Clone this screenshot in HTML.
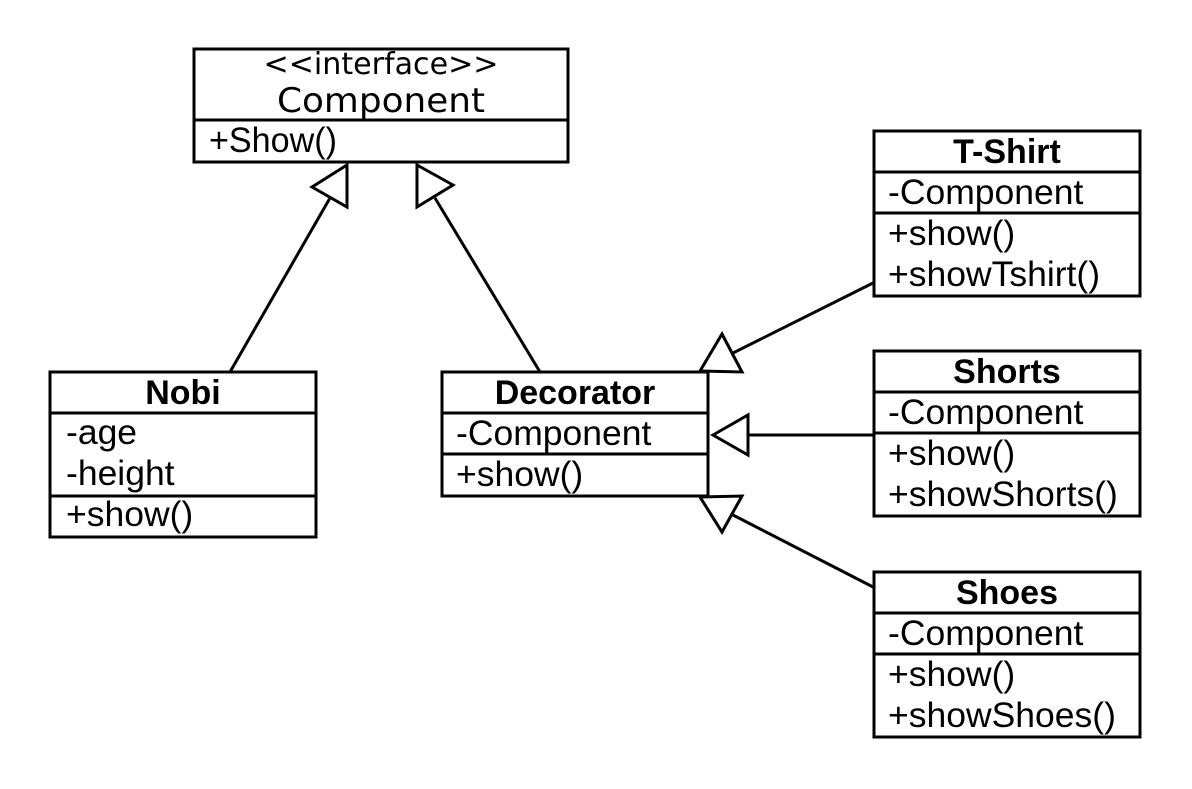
<!DOCTYPE html>
<html><head><meta charset="utf-8"><style>
html,body{margin:0;padding:0;background:#fff;}
svg{display:block;}
text{font-family:"Liberation Sans",Arial,sans-serif;font-size:35.5px;fill:#000;}
.b{font-weight:bold;font-size:34px;}
.g{font-family:"DejaVu Sans","Liberation Sans",sans-serif;}
</style></head><body>
<svg width="1192" height="789" viewBox="0 0 1192 789" xmlns="http://www.w3.org/2000/svg">
<g fill="#fff" stroke="#000" stroke-width="3">
<rect x="194" y="49" width="374" height="113"/>
<line x1="194" y1="120" x2="568" y2="120"/>
<rect x="50" y="372" width="266" height="165"/>
<line x1="50" y1="413" x2="316" y2="413"/>
<line x1="50" y1="496" x2="316" y2="496"/>
<rect x="442" y="372" width="266" height="124"/>
<line x1="442" y1="413" x2="708" y2="413"/>
<line x1="442" y1="454" x2="708" y2="454"/>
<rect x="874" y="131" width="266" height="165"/>
<line x1="874" y1="172" x2="1140" y2="172"/>
<line x1="874" y1="213" x2="1140" y2="213"/>
<rect x="874" y="351" width="266" height="165"/>
<line x1="874" y1="392" x2="1140" y2="392"/>
<line x1="874" y1="433" x2="1140" y2="433"/>
<rect x="874" y="572" width="266" height="165"/>
<line x1="874" y1="613" x2="1140" y2="613"/>
<line x1="874" y1="654" x2="1140" y2="654"/>
<line x1="230" y1="372" x2="330" y2="198"/>
<line x1="540" y1="372" x2="435" y2="198"/>
<line x1="875" y1="282" x2="733" y2="353"/>
<line x1="875" y1="435" x2="748" y2="435"/>
<line x1="875" y1="588" x2="733" y2="515"/>
<polygon points="312,187 347,165 347,207"/>
<polygon points="417,165 417,207 453,185"/>
<polygon points="700,371 742,372 722,334"/>
<polygon points="713,435 748,415 748,455"/>
<polygon points="700,497 742,496 722,532"/>
</g>
<text class="g" x="381" y="74" text-anchor="middle" textLength="235" lengthAdjust="spacingAndGlyphs" style="font-size:30px">&lt;&lt;interface&gt;&gt;</text>
<text class="g" x="381" y="112" text-anchor="middle" textLength="208" lengthAdjust="spacingAndGlyphs" style="font-size:34px">Component</text>
<text x="209" y="152" textLength="128" lengthAdjust="spacingAndGlyphs">+Show()</text>

<text class="b" x="183" y="404" text-anchor="middle">Nobi</text>
<text x="66" y="444">-age</text>
<text x="66" y="485">-height</text>
<text x="66" y="526">+show()</text>

<text class="b" x="575" y="404" text-anchor="middle">Decorator</text>
<text x="456" y="445">-Component</text>
<text x="456" y="486">+show()</text>

<text class="b" x="1007" y="163" text-anchor="middle">T-Shirt</text>
<text x="888" y="204">-Component</text>
<text x="888" y="245">+show()</text>
<text x="888" y="286">+showTshirt()</text>

<text class="b" x="1007" y="383" text-anchor="middle">Shorts</text>
<text x="888" y="424">-Component</text>
<text x="888" y="465">+show()</text>
<text x="888" y="506">+showShorts()</text>

<text class="b" x="1007" y="604" text-anchor="middle">Shoes</text>
<text x="888" y="645">-Component</text>
<text x="888" y="686">+show()</text>
<text x="888" y="727">+showShoes()</text>
</svg>
</body></html>
